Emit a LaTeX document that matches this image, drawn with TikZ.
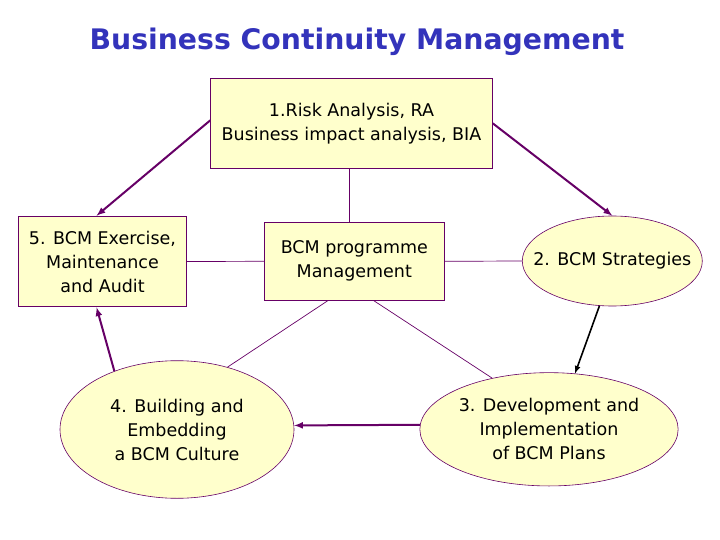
\documentclass[tikz,border=0pt]{standalone}
\usepackage{fontspec}
\setmainfont{DejaVu Sans}
\usepackage{tikz}
\usetikzlibrary{shapes,arrows}
\usetikzlibrary{calc}
\usepackage{xcolor}
\definecolor{boxfill}{HTML}{FFFFCC}
\definecolor{boxline}{HTML}{660066}
\definecolor{titleblue}{HTML}{3333BB}

\begin{document}
\begin{tikzpicture}[x=1pt,y=-1pt,
	box_node/.style={rectangle,fill=boxfill,draw=boxline,line width=0.8pt,inner sep=0pt,align=center,font=\fontsize{17.5}{24}\selectfont},
	oval_node/.style={ellipse,fill=boxfill,draw=boxline,line width=0.6pt,inner sep=0pt,align=center,font=\fontsize{17.5}{24}\selectfont},
	link/.style={draw=boxline,line width=0.7pt},
	flow/.style={-latex,draw=boxline,line width=2pt}]
				\useasboundingbox (0,0) rectangle (720,540);
				\node[text=titleblue,font=\bfseries\fontsize{28.3}{32}\selectfont](title) at (357,42){Business Continuity Management};
				\node[box_node,minimum width=281.6pt,minimum height=90pt](ra) at (351.5,123.3){1.Risk Analysis, RA\\Business impact analysis, BIA};
				\node[box_node,minimum width=168.4pt,minimum height=90.7pt](ex) at (102.5,261.5){5. BCM Exercise,\\Maintenance\\and Audit};
				\node[box_node,minimum width=180pt,minimum height=77.3pt](prog) at (354.3,261.3){BCM programme\\Management};
				\node[oval_node,inner xsep=-20pt,minimum width=180pt,minimum height=90pt](strat) at (612.3,261){2. BCM Strategies};
				\node[oval_node,minimum width=234pt,minimum height=137.6pt](bld) at (177,429.5){4. Building and\\Embedding\\a BCM Culture};
				\node[oval_node,minimum width=258.3pt,minimum height=113.3pt](dev) at (549,429.3){3. Development and\\Implementation\\of BCM Plans};
				% thin links to the centre
				\draw[link] ([xshift=-2.5pt]ra.south) -- ([xshift=-5.3pt]prog.north);
				\draw[link] (ex.east) -- (prog.west);
				\draw[link] (prog.east) -- (strat.west);
				\draw[link] ([xshift=-26pt]prog.south) -- (bld.51);
				\draw[link] ([xshift=19pt]prog.south) -- (dev.138);
				% cycle
				\draw[flow] ([yshift=3pt]ra.west) -- ([xshift=-6pt]ex.north);
				\draw[flow] (ra.east) -- (strat.north);
				\draw[-latex,line width=1.6pt] (strat.254) -- (dev.65);
				\draw[flow] (dev.178) -- (bld.2);
				\draw[flow] (bld.137) -- ([xshift=-6pt]ex.south);
			\end{tikzpicture}
\end{document}
